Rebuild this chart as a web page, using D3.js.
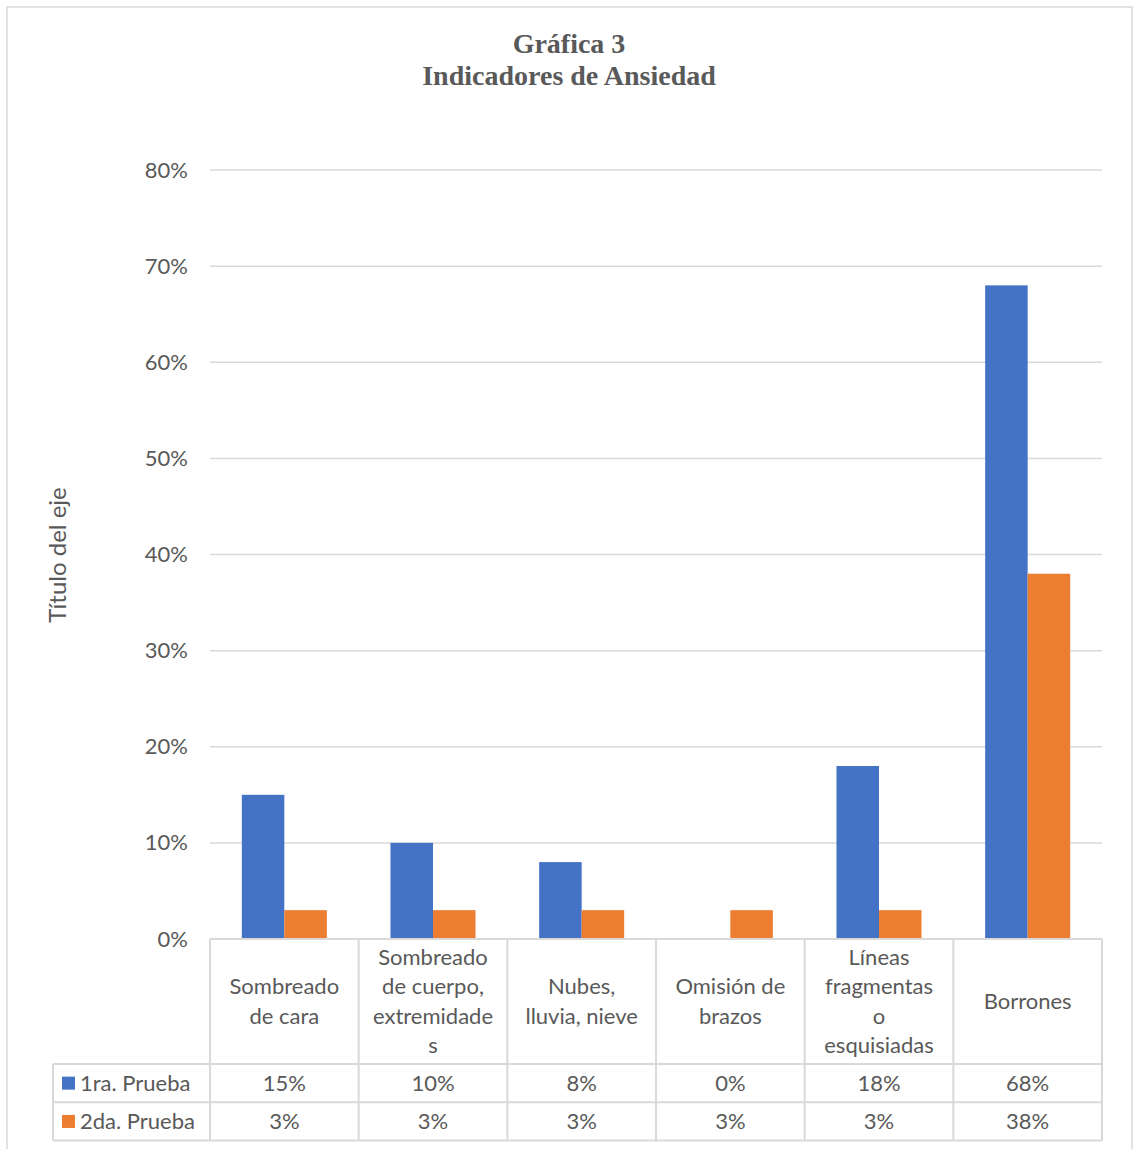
<!DOCTYPE html>
<html>
<head>
<meta charset="utf-8">
<script src="https://cdn.jsdelivr.net/npm/d3@7"></script>
<style>
  html, body { margin: 0; padding: 0; background: #fff; }
  svg { display: block; }
</style>
</head>
<body>
<svg id="chart" width="1133" height="1149"></svg>
<script>
// Indicator categories and their wrapped header lines for the data table
const categories = [
  "Sombreado de cara",
  "Sombreado de cuerpo, extremidades",
  "Nubes, lluvia, nieve",
  "Omisión de brazos",
  "Líneas fragmentas o esquisiadas",
  "Borrones"
];
const categoryLines = [
  ["Sombreado", "de cara"],
  ["Sombreado", "de cuerpo,", "extremidade", "s"],
  ["Nubes,", "lluvia, nieve"],
  ["Omisión de", "brazos"],
  ["Líneas", "fragmentas", "o", "esquisiadas"],
  ["Borrones"]
];
const seriesNames = ["1ra. Prueba", "2da. Prueba"];
const prueba1 = [0.15, 0.10, 0.08, 0.00, 0.18, 0.68];
const prueba2 = [0.03, 0.03, 0.03, 0.03, 0.03, 0.38];
const yTicks = [0, 0.1, 0.2, 0.3, 0.4, 0.5, 0.6, 0.7, 0.8];
const seriesColors = ["#4472C4", "#ED7D31"];

(function () {
const series = [prueba1, prueba2];
const font = "Lato, 'Open Sans', sans-serif";
const fontSize = 22;
const textColor = "#595959";
const lineColor = "#D9D9D9";

const svg = d3.select("#chart");

// Outer chart frame
svg.append("rect")
  .attr("x", 7).attr("y", 7)
  .attr("width", 1125).attr("height", 1160)
  .attr("fill", "#fff")
  .attr("stroke", lineColor).attr("stroke-width", 1.5);

// Title
const title = svg.append("text")
  .attr("text-anchor", "middle")
  .attr("font-family", "'Liberation Serif', 'Times New Roman', serif")
  .attr("font-weight", "bold")
  .attr("font-size", 28)
  .attr("fill", textColor);
title.append("tspan").attr("x", 569).attr("y", 53).text("Gráfica 3");
title.append("tspan").attr("x", 569).attr("y", 85).text("Indicadores de Ansiedad");

// Plot area
const plotLeft = 210, plotRight = 1102, plotTop = 170, plotBottom = 939;

const x = d3.scaleBand().domain(categories).range([plotLeft, plotRight]).paddingInner(0).paddingOuter(0);
const barW = x.bandwidth() * 0.286;
const xSub = d3.scaleBand().domain(d3.range(series.length))
  .range([0, barW * series.length]);

const y = d3.scaleLinear().domain([0, 0.8]).range([plotBottom, plotTop]);

// Horizontal gridlines
svg.append("g")
  .selectAll("line")
  .data(yTicks.slice(1))
  .join("line")
  .attr("x1", plotLeft).attr("x2", plotRight)
  .attr("y1", d => y(d)).attr("y2", d => y(d))
  .attr("stroke", lineColor).attr("stroke-width", 1.5);

// Y axis labels
const yAxis = d3.axisLeft(y).tickValues(yTicks).tickFormat(d3.format(".0%")).tickSize(0).tickPadding(22);
const gy = svg.append("g").attr("transform", `translate(${plotLeft},0)`).call(yAxis);
gy.select(".domain").remove();
gy.selectAll("text")
  .attr("font-family", font).attr("font-size", fontSize).attr("fill", textColor);

// Axis title
svg.append("text")
  .attr("transform", "translate(66,555) rotate(-90)")
  .attr("text-anchor", "middle")
  .attr("font-family", font).attr("font-size", 24)
  .attr("fill", textColor)
  .text("Título del eje");

// Bars
const groupOffset = (x.bandwidth() - barW * series.length) / 2;
series.forEach((vals, si) => {
  svg.append("g")
    .selectAll("rect")
    .data(vals)
    .join("rect")
    .attr("x", (d, i) => x(categories[i]) + groupOffset + xSub(si))
    .attr("y", d => y(d))
    .attr("width", xSub.bandwidth())
    .attr("height", d => y(0) - y(d))
    .attr("fill", seriesColors[si]);
});

// Data table beneath the plot
const headerBottom = 1064, rowH = 38.3;
const tableLeft = 53;
const rowBottoms = [headerBottom + rowH, headerBottom + 2 * rowH];
const table = svg.append("g").attr("stroke", lineColor).attr("stroke-width", 2).attr("fill", "none");

// horizontal table lines
table.append("line").attr("x1", plotLeft).attr("x2", plotRight).attr("y1", plotBottom).attr("y2", plotBottom);
[headerBottom, ...rowBottoms].forEach(yy => {
  table.append("line").attr("x1", tableLeft).attr("x2", plotRight).attr("y1", yy).attr("y2", yy);
});
// vertical table lines
const bounds = categories.map(c => x(c)).concat([plotRight]);
bounds.forEach(xx => {
  table.append("line").attr("x1", xx).attr("x2", xx).attr("y1", plotBottom).attr("y2", rowBottoms[1]);
});
table.append("line").attr("x1", tableLeft).attr("x2", tableLeft).attr("y1", headerBottom).attr("y2", rowBottoms[1]);

// Category headers
const lineH = 29.5;
const headerMid = (plotBottom + headerBottom) / 2;
categoryLines.forEach((lines, i) => {
  const cx = x(categories[i]) + x.bandwidth() / 2;
  const t = svg.append("text")
    .attr("text-anchor", "middle")
    .attr("font-family", font).attr("font-size", fontSize)
    .attr("fill", textColor);
  lines.forEach((ln, j) => {
    t.append("tspan")
      .attr("x", cx)
      .attr("y", headerMid + (j - (lines.length - 1) / 2) * lineH)
      .attr("dy", "0.35em")
      .text(ln);
  });
});

// Series rows: legend key, name, values
const fmt = d3.format(".0%");
series.forEach((vals, si) => {
  const rowTop = si === 0 ? headerBottom : rowBottoms[0];
  const mid = rowTop + rowH / 2;
  svg.append("rect")
    .attr("x", 62).attr("y", mid - 6.5)
    .attr("width", 13).attr("height", 13)
    .attr("fill", seriesColors[si]);
  svg.append("text")
    .attr("x", 80).attr("y", mid).attr("dy", "0.35em")
    .attr("font-family", font).attr("font-size", fontSize)
    .attr("fill", textColor)
    .text(seriesNames[si]);
  vals.forEach((v, i) => {
    svg.append("text")
      .attr("x", x(categories[i]) + x.bandwidth() / 2)
      .attr("y", mid).attr("dy", "0.35em")
      .attr("text-anchor", "middle")
      .attr("font-family", font).attr("font-size", fontSize)
      .attr("fill", textColor)
      .text(fmt(v));
  });
});
})();
</script>
</body>
</html>
